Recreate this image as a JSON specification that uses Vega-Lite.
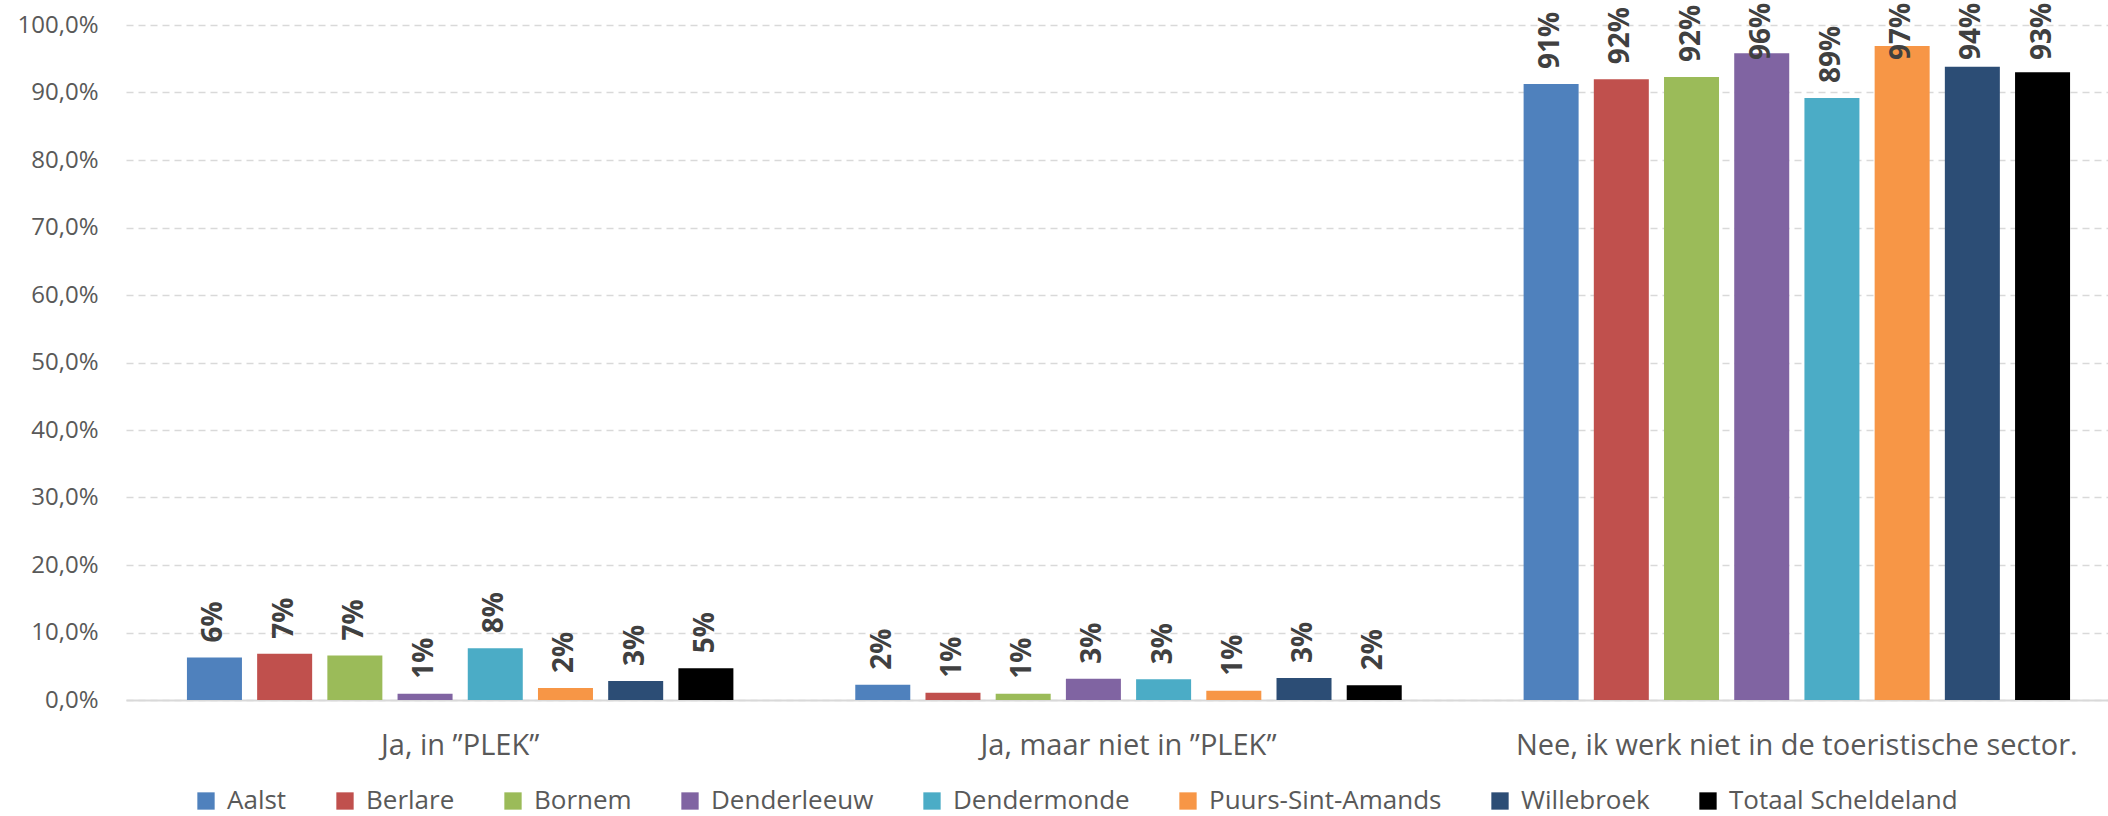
{
  "$schema": "https://vega.github.io/schema/vega-lite/v6.json",
  "width": 1982,
  "height": 675,
  "autosize": {"type": "none"},
  "padding": {"left": 126, "top": 25, "right": 0, "bottom": 116},
  "background": "white",
  "config": {
    "view": {"stroke": null},
    "font": "Open Sans"
  },
  "data": {
    "values": [
      {"cat": "Ja, in ”PLEK”", "city": "Aalst", "value": 0.063},
      {"cat": "Ja, in ”PLEK”", "city": "Berlare", "value": 0.0686},
      {"cat": "Ja, in ”PLEK”", "city": "Bornem", "value": 0.066},
      {"cat": "Ja, in ”PLEK”", "city": "Denderleeuw", "value": 0.0094},
      {"cat": "Ja, in ”PLEK”", "city": "Dendermonde", "value": 0.0765},
      {"cat": "Ja, in ”PLEK”", "city": "Puurs-Sint-Amands", "value": 0.0178},
      {"cat": "Ja, in ”PLEK”", "city": "Willebroek", "value": 0.028},
      {"cat": "Ja, in ”PLEK”", "city": "Totaal Scheldeland", "value": 0.0469},
      {"cat": "Ja, maar niet in ”PLEK”", "city": "Aalst", "value": 0.0227},
      {"cat": "Ja, maar niet in ”PLEK”", "city": "Berlare", "value": 0.0109},
      {"cat": "Ja, maar niet in ”PLEK”", "city": "Bornem", "value": 0.0094},
      {"cat": "Ja, maar niet in ”PLEK”", "city": "Denderleeuw", "value": 0.0316},
      {"cat": "Ja, maar niet in ”PLEK”", "city": "Dendermonde", "value": 0.0306},
      {"cat": "Ja, maar niet in ”PLEK”", "city": "Puurs-Sint-Amands", "value": 0.0138},
      {"cat": "Ja, maar niet in ”PLEK”", "city": "Willebroek", "value": 0.0326},
      {"cat": "Ja, maar niet in ”PLEK”", "city": "Totaal Scheldeland", "value": 0.0217},
      {"cat": "Nee, ik werk niet in de toeristische sector.", "city": "Aalst", "value": 0.9126},
      {"cat": "Nee, ik werk niet in de toeristische sector.", "city": "Berlare", "value": 0.9195},
      {"cat": "Nee, ik werk niet in de toeristische sector.", "city": "Bornem", "value": 0.923},
      {"cat": "Nee, ik werk niet in de toeristische sector.", "city": "Denderleeuw", "value": 0.958},
      {"cat": "Nee, ik werk niet in de toeristische sector.", "city": "Dendermonde", "value": 0.892},
      {"cat": "Nee, ik werk niet in de toeristische sector.", "city": "Puurs-Sint-Amands", "value": 0.969},
      {"cat": "Nee, ik werk niet in de toeristische sector.", "city": "Willebroek", "value": 0.938},
      {"cat": "Nee, ik werk niet in de toeristische sector.", "city": "Totaal Scheldeland", "value": 0.930}
    ]
  },
  "transform": [
    {"calculate": "min(datum.value, 0.926)", "as": "labelY"}
  ],
  "encoding": {
    "x": {
      "field": "cat",
      "type": "nominal",
      "sort": null,
      "scale": {"paddingInner": 0, "paddingOuter": 0, "range": [0, 2005]},
      "axis": {
        "title": null,
        "labelAngle": 0,
        "ticks": false,
        "tickSize": 0,
        "labelPadding": 31,
        "labelFontSize": 29,
        "labelColor": "#595959",
        "labelFont": "Open Sans",
        "labelLimit": 800,
        "domainColor": "#d9d9d9",
        "domainWidth": 2,
        "grid": false
      }
    },
    "xOffset": {
      "field": "city",
      "type": "nominal",
      "sort": ["Aalst", "Berlare", "Bornem", "Denderleeuw", "Dendermonde", "Puurs-Sint-Amands", "Willebroek", "Totaal Scheldeland"],
      "scale": {"paddingInner": 0.2165, "paddingOuter": 0.868}
    }
  },
  "layer": [
    {
      "mark": {"type": "bar"},
      "encoding": {
        "y": {
          "field": "value",
          "type": "quantitative",
          "scale": {"domain": [0, 1], "nice": false, "zero": true},
          "axis": {
            "title": null,
            "values": [0, 0.1, 0.2, 0.3, 0.4, 0.5, 0.6, 0.7, 0.8, 0.9, 1.0],
            "labelExpr": "replace(format(datum.value, '.1%'), '.', ',')",
            "ticks": false,
            "tickSize": 0,
            "domain": false,
            "labelPadding": 28,
            "labelFontSize": 24,
            "labelColor": "#595959",
            "labelFont": "Open Sans",
            "grid": true,
            "gridColor": "#d9d9d9",
            "gridDash": [7, 5],
            "gridWidth": 1.3
          }
        },
        "color": {
          "field": "city",
          "type": "nominal",
          "scale": {
            "domain": ["Aalst", "Berlare", "Bornem", "Denderleeuw", "Dendermonde", "Puurs-Sint-Amands", "Willebroek", "Totaal Scheldeland"],
            "range": ["#4F81BD", "#C0504D", "#9BBB59", "#8064A2", "#4BACC6", "#F79646", "#2C4D75", "#000000"]
          },
          "legend": {
            "title": null,
            "orient": "none",
            "direction": "horizontal",
            "legendX": 67,
            "legendY": 763,
            "symbolType": "square",
            "symbolSize": 300,
            "symbolStrokeWidth": 0,
            "labelFontSize": 26,
            "labelFont": "Open Sans",
            "labelColor": "#595959",
            "labelOffset": 8,
            "labelLimit": 400,
            "columnPadding": 45
          }
        }
      }
    },
    {
      "mark": {
        "type": "text",
        "angle": -90,
        "align": "left",
        "baseline": "middle",
        "dx": 15,
        "font": "Open Sans",
        "fontWeight": "bold",
        "fontSize": 28,
        "color": "#404040"
      },
      "encoding": {
        "y": {"field": "labelY", "type": "quantitative"},
        "text": {"field": "value", "type": "quantitative", "format": ".0%"}
      }
    }
  ]
}
